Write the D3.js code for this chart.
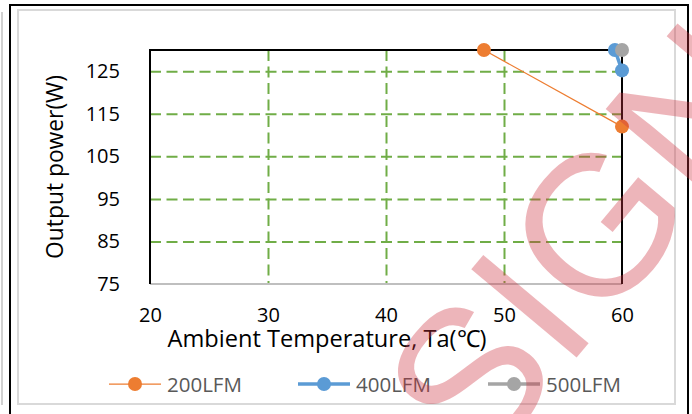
<!DOCTYPE html>
<html>
<head>
<meta charset="utf-8">
<script src="https://cdn.jsdelivr.net/npm/d3@7"></script>
<style>
  body { margin: 0; background: #fff; }
  svg { display: block; }
  text { font-family: "Open Sans", sans-serif; }
</style>
</head>
<body>
<div id="chart"></div>
<script>
// datos del grafico
var xTicks = [20, 30, 40, 50, 60],
    yTicks = [75, 85, 95, 105, 115, 125],
    seriesNames = ["200LFM", "400LFM", "500LFM"],
    seriesColors = ["#ED7D31", "#5B9BD5", "#A5A5A5"],
    temp200 = [48.3, 60], power200 = [130, 112],
    temp400 = [59.4, 60], power400 = [130, 125.2],
    temp500 = [60], power500 = [130];

var width = 692, height = 414,
    plot = {left: 150, right: 622, top: 50, bottom: 284},
    green = "#70AD47",
    font = "'Open Sans', sans-serif";

var svg = d3.select("#chart").append("svg")
    .attr("width", width)
    .attr("height", height);

// marcos exteriores
svg.append("line").attr("x1", 2).attr("x2", 2).attr("y1", 12).attr("y2", 405)
    .attr("stroke", "#D0D0D0").attr("stroke-width", 2);
svg.append("line").attr("x1", 10).attr("x2", 10).attr("y1", 4).attr("y2", height)
    .attr("stroke", "#000").attr("stroke-width", 2);
svg.append("line").attr("x1", 10).attr("x2", 688).attr("y1", 5).attr("y2", 5)
    .attr("stroke", "#000").attr("stroke-width", 2);
svg.append("line").attr("x1", 688).attr("x2", 688).attr("y1", 4).attr("y2", height)
    .attr("stroke", "#000").attr("stroke-width", 2);
svg.append("rect").attr("x", 18).attr("y", 10).attr("width", 657).attr("height", 394)
    .attr("fill", "none").attr("stroke", "#D9D9D9").attr("stroke-width", 2);

var x = d3.scaleLinear().domain([20, 60]).range([plot.left, plot.right]),
    y = d3.scaleLinear().domain([75, 130]).range([plot.bottom, plot.top]);

// rejilla
svg.append("g")
    .attr("transform", "translate(" + plot.left + ",0)")
    .call(d3.axisLeft(y).tickValues(yTicks.slice(1)).tickSize(-(plot.right - plot.left)).tickFormat(""))
    .call(function (g) { g.select(".domain").remove(); })
    .selectAll("line")
    .attr("stroke", green).attr("stroke-width", 2).attr("stroke-dasharray", "11,5.5");

svg.append("g")
    .attr("transform", "translate(0," + plot.top + ")")
    .call(d3.axisBottom(x).tickValues(xTicks.slice(1, -1)).tickSize(plot.bottom - plot.top).tickFormat(""))
    .call(function (g) { g.select(".domain").remove(); })
    .selectAll("line")
    .attr("stroke", green).attr("stroke-width", 2).attr("stroke-dasharray", "11,5.5");

// bordes del area de trazado
svg.append("line").attr("x1", plot.left).attr("x2", plot.right).attr("y1", plot.bottom).attr("y2", plot.bottom)
    .attr("stroke", "#BFBFBF").attr("stroke-width", 2);
svg.append("path")
    .attr("d", "M" + plot.left + "," + plot.bottom + "V" + plot.top + "H" + plot.right + "V" + plot.bottom)
    .attr("fill", "none").attr("stroke", "#000").attr("stroke-width", 2);

// etiquetas de ejes
svg.append("g")
    .attr("transform", "translate(120,0)")
    .call(d3.axisLeft(y).tickValues(yTicks).tickSize(0).tickPadding(0))
    .call(function (g) { g.select(".domain").remove(); })
    .selectAll("text")
    .attr("fill", "#000").style("font-size", "20px").style("font-family", font);

svg.append("g")
    .attr("transform", "translate(0,308)")
    .call(d3.axisBottom(x).tickValues(xTicks).tickSize(0).tickPadding(0))
    .call(function (g) { g.select(".domain").remove(); })
    .selectAll("text")
    .attr("fill", "#000").style("font-size", "20px").style("font-family", font);

svg.append("text")
    .attr("x", 327).attr("y", 347)
    .attr("text-anchor", "middle")
    .style("font-size", "23.6px")
    .text("Ambient Temperature, Ta(℃)");

svg.append("text")
    .attr("transform", "translate(63,167) rotate(-90)")
    .attr("text-anchor", "middle")
    .style("font-size", "22.8px")
    .text("Output power(W)");

// series
var series = [
    {name: seriesNames[0], color: seriesColors[0], xs: temp200, ys: power200, w: 1.25},
    {name: seriesNames[1], color: seriesColors[1], xs: temp400, ys: power400, w: 3.5},
    {name: seriesNames[2], color: seriesColors[2], xs: temp500, ys: power500, w: 3.5}
];

var line = d3.line().x(function (d) { return x(d[0]); }).y(function (d) { return y(d[1]); });

series.forEach(function (s) {
    var pts = s.xs.map(function (v, i) { return [v, s.ys[i]]; });
    svg.append("path").datum(pts)
        .attr("d", line)
        .attr("fill", "none").attr("stroke", s.color).attr("stroke-width", s.w);
    svg.selectAll(null).data(pts).enter().append("circle")
        .attr("cx", function (d) { return x(d[0]); })
        .attr("cy", function (d) { return y(d[1]); })
        .attr("r", 7)
        .attr("fill", s.color);
});

// leyenda
var legendX = [109, 298, 488];
series.forEach(function (s, i) {
    var g = svg.append("g").attr("transform", "translate(" + legendX[i] + ",384)");
    g.append("line").attr("x1", 0).attr("x2", 52).attr("y1", 0).attr("y2", 0)
        .attr("stroke", s.color).attr("stroke-width", s.w);
    g.append("circle").attr("cx", 26).attr("cy", 0).attr("r", 7).attr("fill", s.color);
    g.append("text").attr("x", 58).attr("y", 7.5)
        .attr("fill", "#595959").style("font-size", "20.5px")
        .text(s.name);
});

// marca de agua
svg.append("text")
    .attr("transform", "translate(479,474) rotate(-50)")
    .style("font-family", "'Liberation Sans', Arial, sans-serif")
    .style("font-size", "200px")
    .attr("fill", "#CC3340")
    .attr("fill-opacity", 0.36)
    .text("SIGN");
</script>
</body>
</html>
